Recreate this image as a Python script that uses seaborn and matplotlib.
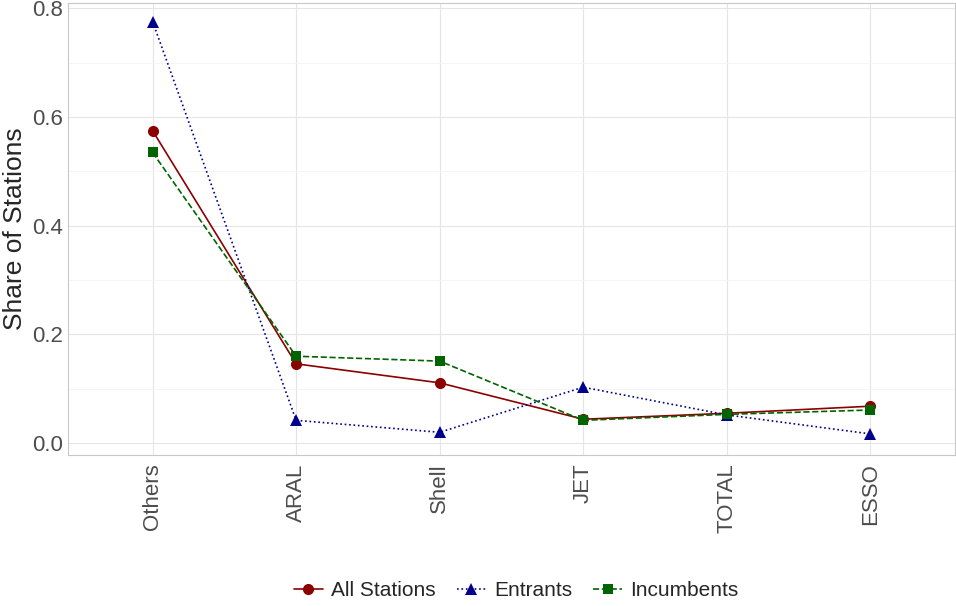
import matplotlib
matplotlib.use("Agg")
import matplotlib.pyplot as plt
import seaborn as sns
import pandas as pd
from matplotlib.lines import Line2D

brands = ["Others", "ARAL", "Shell", "JET", "TOTAL", "ESSO"]
all_st = [0.575, 0.146, 0.111, 0.044, 0.055, 0.068]
entrants = [0.776, 0.042, 0.020, 0.103, 0.052, 0.017]
incumbents = [0.535, 0.160, 0.151, 0.042, 0.053, 0.061]

df = pd.DataFrame({
    "brand": brands * 3,
    "share": all_st + entrants + incumbents,
    "group": ["All Stations"] * 6 + ["Entrants"] * 6 + ["Incumbents"] * 6,
})

sns.set_style("whitegrid")
plt.rcParams['font.family'] = ['Liberation Sans', 'DejaVu Sans']
fig = plt.figure(figsize=(9.56, 6.06), dpi=100)
ax = fig.add_axes([0.071, 0.249, 0.928, 0.746])

styles = {"All Stations": ("#8B0000", "o", "-", 8),
          "Entrants": ("#00008B", "^", ":", 9),
          "Incumbents": ("#006400", "s", "--", 7)}
handles = []
for g, (c, m, ls, ms) in styles.items():
    d = df[df.group == g]
    sns.lineplot(data=d, x="brand", y="share", ax=ax, color=c, marker=m,
                 linestyle=ls, markersize=ms, markeredgewidth=0, linewidth=1.2,
                 sort=False, legend=False)
    handles.append(Line2D([], [], color=c, marker=m, linestyle=ls, markersize=ms,
                          markeredgewidth=0, linewidth=1.2, label=g))

ax.set_xlim(-0.59, 5.59)
ax.set_ylim(-0.022, 0.81)
ax.set_yticks([0, 0.2, 0.4, 0.6, 0.8])
ax.set_yticks([0.1, 0.3, 0.5, 0.7], minor=True)
ax.grid(True, which="major", color="#E5E5E5", linewidth=0.8)
ax.grid(True, which="minor", color="#F2F2F2", linewidth=0.5)
for s in ax.spines.values():
    s.set_color("#C8C8C8"); s.set_linewidth(0.8)
ax.set_xlabel("")
ax.set_ylabel("Share of Stations", fontsize=19)
ax.tick_params(axis="x", labelrotation=90, labelsize=16, length=0, pad=6)
ax.tick_params(axis="y", labelsize=16, length=0)
ax.set_yticklabels(["0.0", "0.2", "0.4", "0.6", "0.8"])
for t in ax.get_yticklabels() + ax.get_xticklabels():
    t.set_color("#4D4D4D")
fig.legend(handles=handles, loc="center", bbox_to_anchor=(0.54, 0.025), ncol=3,
           frameon=False, fontsize=15, handlelength=1.4, columnspacing=1.0, handletextpad=0.4)
fig.savefig("out.png", dpi=100)
